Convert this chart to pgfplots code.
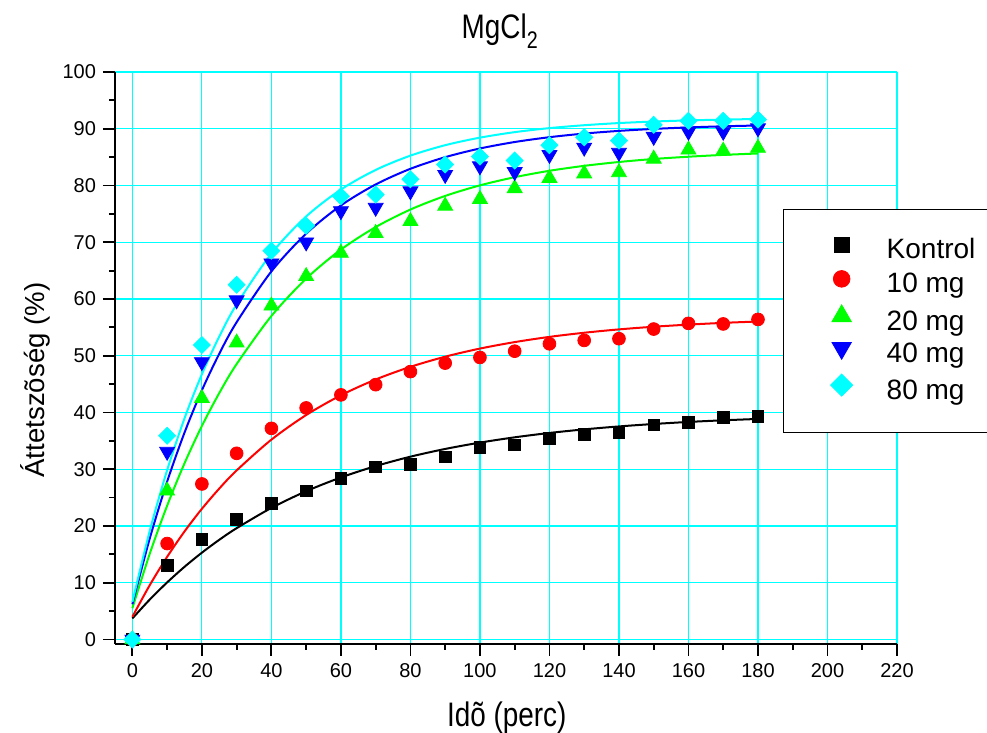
\documentclass[border=0pt]{standalone}
\usepackage{pgfplots}
\pgfplotsset{compat=1.18}
\usepackage{fontspec}
\setmainfont{Liberation Sans}
\newfontfamily\narrowfont[FakeStretch=0.82]{Liberation Sans}
\definecolor{cgreen}{RGB}{0,255,0}
\definecolor{ccyan}{RGB}{0,255,255}
\definecolor{cblue}{RGB}{0,0,255}
\definecolor{cred}{RGB}{255,0,0}
\begin{document}
\begin{tikzpicture}[x=1pt,y=1pt]
\useasboundingbox (0,0) rectangle (493.5,366.5);
\begin{axis}[
  at={(57.5pt,44.5pt)}, anchor=south west,
  scale only axis, width=391pt, height=286pt,
  xmin=-5, xmax=220, ymin=-0.8, ymax=100,
  clip=false,
  axis lines=left, axis line style={-, line width=1pt},
  xtick={0,20,...,220}, ytick={0,10,...,100},
  minor x tick num=1, minor y tick num=1,
  tick align=outside, major tick length=6pt, minor tick length=3pt,
  every tick/.style={black, line width=0.9pt},
  grid=major, major grid style={ccyan, line width=0.6pt},
  tick label style={font=\fontsize{10}{12}\selectfont},
  /pgf/number format/assume math mode=true,
  xlabel={Idõ (perc)}, ylabel={Áttetszõség (\%)},
  xlabel style={font=\narrowfont\fontsize{17}{20}\selectfont, at={(axis description cs:0.501,-0.129)}, anchor=center},
  ylabel style={font=\fontsize{13.8}{16}\selectfont, at={(axis description cs:-0.1023,0.4615)}, anchor=center},
  title={MgCl\raisebox{-0.3em}{\fontsize{12}{12}\selectfont 2}},
  title style={font=\narrowfont\fontsize{17}{20}\selectfont, at={(axis description cs:0.492,1.05)}, anchor=center},
  legend style={at={(axis description cs:0.854,0.761)}, anchor=north west, draw=black, line width=0.8pt, fill=white,
    inner xsep=23.5pt, inner ysep=13.75pt, font=\fontsize{14}{16}\selectfont, row sep=3pt, column sep=17pt,
    nodes={inner sep=0pt, text height=10pt, text depth=3pt}},
  legend cell align=left,
  legend image code/.code={\draw[only marks, line width=0.4pt, /tikz/every mark/.append style={scale=1.3}] plot coordinates {(0pt,3.5pt)};},
]
\addplot[only marks, mark=square*, mark size=2.9pt, black] coordinates {
(0,0) (10,13.1) (20,17.6) (30,21.2) (40,24.0) (50,26.2) (60,28.4) (70,30.4) (80,30.9) (90,32.2) (100,33.8) (110,34.3) (120,35.4) (130,36.1) (140,36.5) (150,37.8) (160,38.2) (170,39.1) (180,39.3)};
\addlegendentry{\makebox[45pt][l]{Kontrol}}
\addplot[only marks, mark=*, mark size=3.2pt, cred] coordinates {
(0,0) (10,16.9) (20,27.4) (30,32.8) (40,37.2) (50,40.8) (60,43.1) (70,44.9) (80,47.2) (90,48.7) (100,49.7) (110,50.8) (120,52.1) (130,52.7) (140,53.0) (150,54.7) (160,55.7) (170,55.6) (180,56.4)};
\addlegendentry{10 mg}
\addplot[only marks, mark=triangle*, mark size=4.3pt, cgreen] coordinates {
(0,0) (10,26.2) (20,42.5) (30,52.3) (40,58.8) (50,64.0) (60,68.1) (70,71.6) (80,73.7) (90,76.4) (100,77.6) (110,79.5) (120,81.3) (130,82.1) (140,82.3) (150,84.7) (160,86.3) (170,86.1) (180,86.6)};
\addlegendentry{20 mg}
\addplot[only marks, mark=triangle*, mark options={rotate=180}, mark size=4.3pt, cblue] coordinates {
(0,0) (10,33.1) (20,48.9) (30,59.8) (40,66.3) (50,70.0) (60,75.5) (70,76.1) (80,79.0) (90,81.9) (100,83.4) (110,82.4) (120,85.4) (130,86.7) (140,85.8) (150,88.6) (160,89.5) (170,89.5) (180,90.1)};
\addlegendentry{40 mg}
\addplot[only marks, mark=square*, mark options={rotate=45}, mark size=3.0pt, ccyan] coordinates {
(0,0) (10,35.9) (20,51.9) (30,62.5) (40,68.5) (50,72.9) (60,78.1) (70,78.4) (80,81.1) (90,83.7) (100,85.1) (110,84.4) (120,87.1) (130,88.5) (140,87.9) (150,90.7) (160,91.4) (170,91.4) (180,91.6)};
\addlegendentry{80 mg}
% fitted curves
\addplot[black, line width=1pt, smooth, no marks, forget plot] coordinates {
(0,3.7) (5,7.03) (10,10.05) (15,12.80) (20,15.29) (25,17.56) (30,19.61) (40,23.18) (50,26.12) (60,28.55) (70,30.55) (80,32.21) (90,33.57) (100,34.69) (110,35.62) (120,36.39) (130,37.02) (140,37.54) (150,37.97) (160,38.33) (170,38.62) (180,38.86)};
\addplot[cred, line width=1pt, smooth, no marks, forget plot] coordinates {
(0,4.0) (5,9.57) (10,14.56) (15,19.03) (20,23.02) (25,26.59) (30,29.79) (40,35.21) (50,39.55) (60,43.03) (70,45.81) (80,48.04) (90,49.83) (100,51.26) (110,52.40) (120,53.32) (130,54.05) (140,54.64) (150,55.11) (160,55.48) (170,55.79) (180,56.03)};
\addplot[cgreen, line width=1pt, smooth, no marks, forget plot] coordinates {
(0,5.5) (5,15.11) (10,23.57) (15,31.04) (20,37.62) (25,43.42) (30,48.53) (40,57.00) (50,63.58) (60,68.70) (70,72.67) (80,75.76) (90,78.16) (100,80.02) (110,81.46) (120,82.59) (130,83.46) (140,84.14) (150,84.67) (160,85.07) (170,85.39) (180,85.64)};
\addplot[cblue, line width=1pt, smooth, no marks, forget plot] coordinates {
(0,6.2) (5,17.80) (10,27.81) (15,36.45) (20,43.91) (25,50.35) (30,55.91) (40,64.86) (50,71.51) (60,76.48) (70,80.18) (80,82.94) (90,84.99) (100,86.52) (110,87.66) (120,88.51) (130,89.15) (140,89.62) (150,89.97) (160,90.23) (170,90.43) (180,90.57)};
\addplot[ccyan, line width=1pt, smooth, no marks, forget plot] coordinates {
(0,6.6) (5,19.14) (10,29.83) (15,38.96) (20,46.74) (25,53.38) (30,59.05) (40,68.01) (50,74.54) (60,79.28) (70,82.74) (80,85.26) (90,87.10) (100,88.43) (110,89.40) (120,90.11) (130,90.62) (140,91.00) (150,91.27) (160,91.47) (170,91.61) (180,91.72)};
\end{axis}
\end{tikzpicture}
\end{document}
